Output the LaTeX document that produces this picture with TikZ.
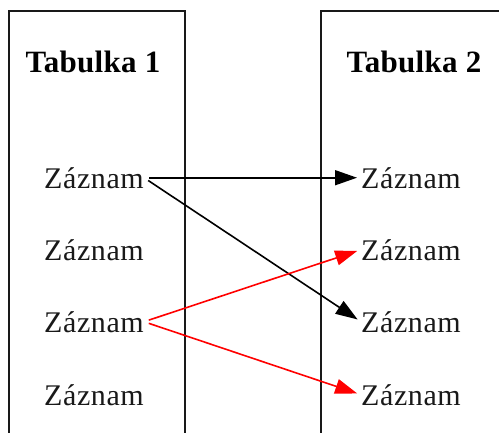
\documentclass[tikz,border=0pt]{standalone}
\usepackage{fontspec}
\setmainfont{Liberation Serif}
\usetikzlibrary{arrows.meta}
\begin{document}
\begin{tikzpicture}[x=1pt,y=-1pt,
  rec/.style={font=\fontsize{30}{33}\selectfont\addfontfeature{LetterSpace=2}, inner sep=0pt, anchor=base west, text=black!90},
  head/.style={font=\fontsize{31}{34}\selectfont\bfseries\addfontfeature{LetterSpace=1}, inner sep=0pt, anchor=base},
  frame/.style={draw=black!90, line width=1.5pt},
  link/.style={line width=1.6pt, -{Triangle[length=22pt,width=15pt]}, shorten >=4pt, shorten <=5pt}]
\useasboundingbox (0,0) rectangle (499,432);
\draw[frame] (9,440) -- (9,11) -- (185,11) -- (185,440);
\draw[frame] (321,440) -- (321,11) -- (510,11);
\node[head] (t1) at (93,72) {Tabulka 1};
\node[head] (t2) at (414,72) {Tabulka 2};
\node[rec] (l1) at (44,188) {Záznam};
\node[rec] (l2) at (44,260) {Záznam};
\node[rec] (l3) at (44,332) {Záznam};
\node[rec] (l4) at (44,405) {Záznam};
\node[rec] (r1) at (361,188) {Záznam};
\node[rec] (r2) at (361,260) {Záznam};
\node[rec] (r3) at (361,332) {Záznam};
\node[rec] (r4) at (361,405) {Záznam};
\draw[link, black] (l1.east) -- (r1.west);
\draw[link, black] (l1.east) -- (r3.west);
\draw[link, red] (l3.east) -- (r2.west);
\draw[link, red] (l3.east) -- (r4.west);
\end{tikzpicture}
\end{document}
